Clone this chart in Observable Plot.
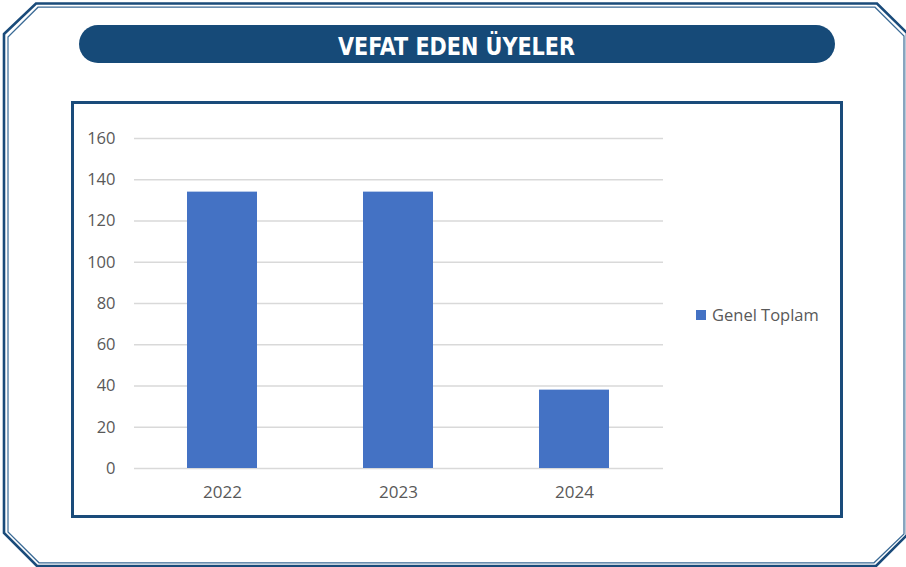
<!DOCTYPE html>
<html>
<head>
<meta charset="utf-8">
<script src="https://cdn.jsdelivr.net/npm/d3@7"></script>
<script src="https://cdn.jsdelivr.net/npm/@observablehq/plot@0.6"></script>
<style>
  html, body { margin: 0; padding: 0; background: #ffffff; }
  #wrap { position: relative; width: 906px; height: 567px; overflow: hidden; background: #ffffff; }
  #wrap > svg, #wrap > figure { position: absolute; left: 0; top: 0; margin: 0; }
</style>
</head>
<body>
<div id="wrap"></div>
<script>
// ---- data ----
const title = "VEFAT EDEN ÜYELER";
const years = ["2022", "2023", "2024"];
const values = [134, 134, 38];
const seriesName = "Genel Toplam";
const yTicks = [0, 20, 40, 60, 80, 100, 120, 140, 160];

const data = years.map((year, i) => ({year, value: values[i]}));
const barColor = "#4472c4";
const dark = "#1a4b7a";

const wrap = document.getElementById("wrap");
const ns = "http://www.w3.org/2000/svg";

// ---- decoration (frame, banner, chart box) ----
const deco = document.createElementNS(ns, "svg");
deco.setAttribute("width", 906);
deco.setAttribute("height", 567);
deco.innerHTML = `
  <path d="M4,34 L36,3.5 L877,3.5 L907,33 L907,535 L876,566 L37,566 L4,533 Z" fill="none" stroke="${dark}" stroke-width="2.6"/>
  <path d="M8,37 L38,7.2 L875,7.2 L904,36 L904,534 L874,562.8 L39,562.8 L8,532 Z" fill="none" stroke="#3a6a95" stroke-width="1.2"/>
  <rect x="79" y="25" width="756" height="38" rx="19" ry="19" fill="#164a78"/>
  <text x="456.5" y="55" text-anchor="middle" fill="#ffffff" font-family="DejaVu Sans Condensed, DejaVu Sans" font-weight="bold" font-size="24" textLength="237" lengthAdjust="spacingAndGlyphs">${title}</text>
  <rect x="72.5" y="102.5" width="769" height="414" fill="#ffffff" stroke="${dark}" stroke-width="3"/>
`;
wrap.appendChild(deco);

// ---- chart ----
const chart = Plot.plot({
  width: 906,
  height: 567,
  marginLeft: 134,
  marginRight: 243,
  marginTop: 138,
  marginBottom: 99,
  style: {fontFamily: "Open Sans, sans-serif", fontSize: "17px", color: "#595959", background: "transparent", overflow: "visible"},
  x: {domain: years, paddingInner: 0.6, paddingOuter: 0.3, label: null},
  y: {domain: [0, 160], label: null},
  marks: [
    Plot.gridY(yTicks, {stroke: "#d9d9d9", strokeOpacity: 1, strokeWidth: 1.3}),
    Plot.barY(data, {x: "year", y: "value", fill: barColor}),
    Plot.axisX({tickSize: 0, tickPadding: 17, fill: "#595959", fontSize: 17}),
    Plot.axisY(yTicks, {tickSize: 0, tickPadding: 19, fill: "#595959", fontSize: 16.5})
  ]
});
wrap.appendChild(chart);

// ---- legend ----
const leg = document.createElementNS(ns, "svg");
leg.setAttribute("width", 906);
leg.setAttribute("height", 567);
leg.innerHTML = `
  <rect x="696" y="310" width="10" height="10" fill="${barColor}"/>
  <text x="712" y="321" fill="#595959" font-family="Open Sans, sans-serif" font-size="16.5">${seriesName}</text>
`;
wrap.appendChild(leg);
</script>
</body>
</html>
